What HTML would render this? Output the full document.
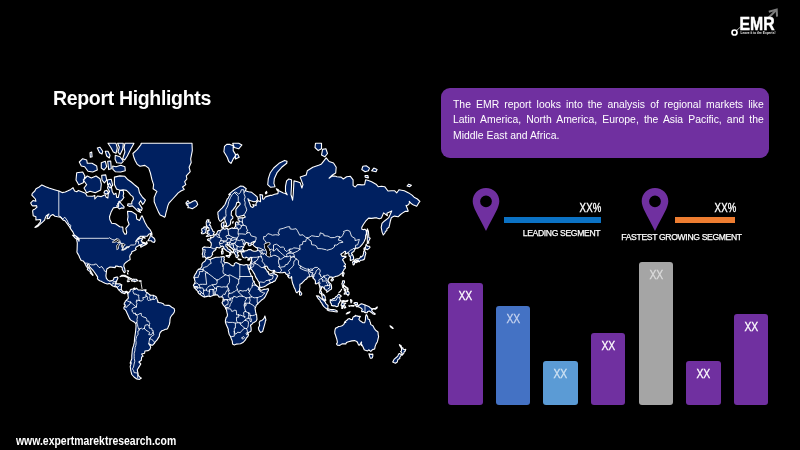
<!DOCTYPE html>
<html><head><meta charset="utf-8"><title>Report Highlights</title>
<style>
html,body{margin:0;padding:0;background:#000;}
body{width:800px;height:450px;overflow:hidden;position:relative;font-family:"Liberation Sans",sans-serif;color:#fff;}
.map{position:absolute;left:0;top:0;}
.title{position:absolute;left:53px;top:87px;font-size:19.5px;font-weight:bold;letter-spacing:-0.33px;white-space:nowrap;}
.box{position:absolute;left:441.2px;top:88px;width:327.6px;height:69.5px;background:#7030a0;border-radius:9px;}
.box p{position:absolute;left:12.2px;top:8.8px;width:334.2px;margin:0;font-size:11.2px;line-height:15.5px;text-align:justify;color:#fff;transform-origin:left top;transform:scaleX(0.93);}
.pin{position:absolute;}
.hbar{position:absolute;height:6px;top:217.3px;}
.pct{position:absolute;top:201.2px;-webkit-text-stroke:0.35px #fff;font-size:12px;letter-spacing:0.3px;white-space:nowrap;transform-origin:right top;transform:scaleX(0.80);}
.seg{position:absolute;-webkit-text-stroke:0.25px #fff;font-size:8.6px;white-space:nowrap;letter-spacing:-0.34px;}
.bar{position:absolute;width:34.7px;border-radius:3px;}
.bar span{-webkit-text-stroke:0.3px currentColor;position:absolute;left:0;right:0;top:4.8px;text-align:center;font-size:12.8px;transform:scaleX(0.81);}
.foot{position:absolute;left:16.3px;top:433.6px;font-size:12.2px;font-weight:bold;white-space:nowrap;transform-origin:left top;transform:scaleX(0.856);}
.logo{position:absolute;left:0;top:0;}
</style></head><body>
<svg class="map" width="800" height="450" viewBox="0 0 800 450">
<path d="M30.7 202.9L33.2 200.4L35.9 201.3L35.4 199.0L33.2 196.6L31.8 195.1L32.3 193.3L34.8 191.0L36.0 188.7L39.2 187.0L41.9 184.9L45.7 186.7L49.0 188.0L54.4 189.7L58.8 191.0L62.1 192.6L65.3 192.0L67.5 191.0L70.8 189.4L73.0 187.7L74.6 191.0L76.8 191.7L78.4 190.4L81.7 191.7L85.5 193.3L87.1 196.0L92.6 196.3L94.8 195.4L94.8 199.0L97.5 196.0L101.3 196.6L105.1 194.8L106.2 197.2L107.9 198.1L108.2 194.2L109.5 191.4L107.5 188.0L108.4 184.6L109.5 183.1L111.3 186.3L112.2 191.4L113.9 194.5L116.0 193.3L116.7 197.5L118.2 197.5L119.2 193.6L119.8 190.4L123.1 190.4L123.7 193.3L123.1 196.0L123.9 197.5L121.5 200.7L118.8 201.5L118.8 204.0L116.8 205.6L117.1 207.2L113.3 207.9L111.1 212.1L109.5 216.8L109.8 219.5L111.7 223.3L115.5 223.7L119.8 226.7L122.8 227.1L123.1 231.2L124.8 234.3L126.4 233.9L126.7 232.1L125.8 228.3L129.1 224.3L127.5 219.9L128.0 216.8L127.5 211.2L131.8 211.6L136.2 214.5L136.7 219.0L139.5 220.5L141.6 216.1L142.2 215.9L144.9 222.2L147.1 226.3L150.4 230.2L151.8 233.0L148.7 234.3L147.1 236.3L140.6 236.3L137.8 238.5L135.7 241.4L137.8 239.4L140.6 238.2L142.2 238.3L142.4 239.5L141.1 240.6L141.9 241.7L142.2 243.0L143.8 243.7L145.5 243.7L146.7 241.7L147.3 243.4L146.0 244.5L143.3 245.8L140.8 247.2L140.5 245.8L142.2 244.5L140.6 244.7L139.5 245.3L136.2 247.0L135.4 248.9L136.2 249.6L134.6 250.6L131.8 251.8L131.6 253.4L130.2 254.8L129.7 256.7L130.2 259.5L128.0 260.9L126.2 262.2L124.2 264.1L123.8 266.2L124.8 269.0L125.2 271.6L124.8 272.6L124.0 272.5L123.3 271.2L122.2 269.3L122.4 267.8L120.9 266.5L119.3 266.7L117.1 266.1L115.5 266.1L115.2 267.6L113.3 267.4L110.0 267.0L106.8 269.0L106.4 271.6L105.9 275.9L106.4 278.3L107.9 280.1L109.5 281.1L112.2 280.6L113.5 279.8L114.0 277.7L116.6 277.1L117.7 277.1L117.9 278.3L117.0 280.1L116.4 281.9L115.7 283.8L117.7 283.9L119.8 283.8L121.7 284.9L121.4 287.2L121.3 289.5L122.0 290.6L123.7 291.9L125.3 291.6L126.4 291.2L128.1 292.3L127.6 293.8L127.2 292.7L125.8 291.9L124.9 293.7L123.4 293.2L122.1 292.8L121.4 292.4L119.8 290.9L119.0 290.3L117.9 288.7L117.1 287.2L114.9 286.6L112.8 286.0L111.9 285.4L110.0 283.6L108.9 283.6L107.3 284.0L105.1 283.3L103.5 282.6L101.3 281.3L99.7 280.7L98.0 279.5L97.4 278.5L97.7 277.1L96.4 275.1L94.8 272.8L93.3 270.7L92.1 269.3L89.9 267.1L89.1 264.9L87.4 264.2L87.5 265.8L89.1 268.0L90.4 270.3L91.5 272.2L92.3 273.8L93.1 275.1L92.7 275.4L92.1 274.7L90.4 273.2L90.2 271.6L88.5 270.6L87.3 269.3L88.0 268.4L86.4 266.5L85.4 264.5L84.9 263.2L83.3 261.1L81.2 260.4L79.6 257.5L79.0 255.8L77.6 253.4L76.9 252.0L77.1 249.6L77.2 246.6L77.3 243.0L76.6 239.4L78.4 239.5L79.0 241.2L79.2 239.2L78.2 237.8L76.8 236.6L74.1 234.8L73.0 232.1L70.5 228.7L69.2 226.3L67.0 223.3L64.8 220.5L63.2 220.1L60.4 217.2L57.7 216.8L55.0 216.3L52.8 214.5L50.6 215.7L49.0 218.4L47.0 218.6L47.9 215.7L49.0 214.0L46.3 215.7L45.2 217.9L44.6 220.1L42.5 222.2L39.7 224.7L37.6 226.5L35.9 227.3L34.9 227.5L36.5 225.9L37.6 225.1L40.3 222.2L40.8 219.7L39.7 219.5L38.1 219.7L35.9 219.9L35.9 216.8L33.2 215.7L32.9 213.3L32.6 210.9L33.2 209.7L34.8 209.2L37.0 207.2L36.5 205.6L34.8 205.9L32.6 205.9L31.8 205.1L30.7 202.9Z M128.1 292.3L128.8 292.9L128.8 292.3L130.1 291.1L130.2 290.1L131.0 289.4L132.9 289.0L134.3 287.9L134.9 288.3L134.2 288.9L134.5 289.5L136.0 288.9L136.2 288.1L137.3 288.9L138.2 290.0L140.6 290.0L142.2 290.4L144.4 289.8L145.1 290.6L146.2 292.3L147.6 292.9L149.1 294.3L150.4 295.2L152.6 295.2L153.6 295.4L155.3 296.3L156.4 297.0L157.2 299.7L158.0 301.2L157.5 302.0L159.6 302.8L160.7 302.8L163.4 303.7L164.2 305.0L167.3 305.4L168.9 305.2L170.5 306.3L172.2 307.6L174.1 308.4L174.6 310.3L174.5 311.4L173.6 313.3L172.2 314.8L170.5 317.2L170.0 319.5L169.8 322.5L169.2 325.0L168.6 326.0L167.8 328.1L166.7 329.3L165.4 329.3L163.4 330.3L162.0 330.6L160.2 332.5L159.5 334.4L159.3 336.4L158.0 338.4L156.9 340.1L155.7 341.3L154.3 343.4L152.7 345.1L151.2 345.1L148.8 343.8L150.2 345.9L150.7 347.4L149.8 349.5L148.2 350.6L144.9 351.0L144.6 353.3L141.6 354.0L143.1 356.3L141.6 357.1L141.3 360.3L138.9 362.0L140.8 364.0L138.9 367.1L137.3 369.8L137.9 373.1L138.2 375.4L140.6 377.8L141.4 378.0L139.5 379.4L136.7 379.0L134.0 377.0L131.8 374.5L130.8 370.7L130.2 366.3L131.3 362.8L130.1 363.2L131.8 358.7L131.8 355.6L132.1 352.5L132.4 349.5L132.7 348.1L133.5 345.9L134.3 342.4L134.6 338.4L135.2 334.4L135.7 330.6L136.0 326.8L135.9 323.6L134.6 322.3L132.4 321.1L130.5 319.9L129.3 318.1L128.4 316.0L127.2 313.6L126.4 311.5L125.4 309.9L124.0 308.9L123.9 307.4L125.0 305.9L125.4 304.9L124.2 304.5L124.3 303.2L125.2 302.0L125.3 301.1L126.5 300.6L126.6 300.0L127.3 299.1L128.0 298.8L128.4 297.7L128.0 295.8L128.1 294.4L127.6 293.8Z M206.1 258.7L206.7 258.5L209.2 259.3L210.3 259.6L211.8 258.8L215.8 257.3L217.9 257.3L220.1 257.0L223.2 256.5L224.5 257.0L223.9 258.4L224.4 259.8L223.6 261.1L224.5 262.2L226.9 262.6L229.1 263.4L231.0 265.1L233.0 266.1L234.3 265.1L234.3 263.6L235.9 262.6L237.6 263.2L238.7 263.8L239.8 264.4L241.9 264.8L244.1 265.3L245.2 264.8L246.3 264.5L247.7 264.8L247.9 266.5L248.3 268.4L248.9 269.7L249.1 270.3L249.7 272.2L250.7 274.1L250.9 275.3L252.2 276.5L252.6 278.3L252.7 279.4L253.4 281.1L254.0 281.9L255.0 284.2L256.1 285.1L257.3 286.3L258.7 287.4L259.6 287.9L259.6 288.8L260.5 290.1L261.6 290.2L263.7 289.4L265.9 289.2L268.2 288.6L268.5 290.2L267.5 291.8L266.5 294.1L265.4 296.3L263.7 298.6L262.0 299.7L259.9 301.7L258.3 303.2L257.2 304.3L256.3 305.2L255.8 306.7L255.0 308.4L255.3 309.9L255.6 311.9L256.1 314.0L256.6 314.8L256.8 317.2L257.0 319.2L256.1 321.1L253.9 322.5L252.7 323.0L252.1 324.1L250.5 325.3L251.0 327.4L251.2 329.9L250.9 331.2L248.5 332.5L248.0 333.1L248.4 335.1L247.9 336.4L246.3 338.2L245.2 340.1L243.6 342.0L242.9 342.4L240.5 343.8L238.1 344.0L236.5 344.1L234.3 344.9L232.6 344.1L232.4 342.4L232.3 341.1L231.4 339.0L230.5 336.5L229.1 334.2L228.3 330.6L228.3 329.2L227.2 326.8L225.9 323.8L225.4 322.2L225.4 320.5L226.1 317.7L227.1 316.6L227.5 314.8L226.9 312.2L226.5 310.1L225.9 308.9L225.6 307.8L224.7 306.6L223.4 305.2L222.3 303.2L222.0 302.8L222.7 301.5L223.1 300.9L223.1 299.4L223.2 298.4L223.0 297.6L222.2 296.9L221.5 296.9L220.1 297.0L219.0 297.1L218.3 295.8L217.4 294.9L216.2 294.8L214.5 295.0L213.8 295.1L212.3 295.8L210.3 296.6L209.0 296.2L208.1 296.1L206.0 296.6L204.3 297.0L202.7 296.3L200.7 294.9L200.0 294.2L198.9 293.6L198.1 292.4L198.0 291.6L197.6 291.2L196.5 290.0L196.0 289.5L195.4 288.6L194.3 287.9L194.2 286.8L193.4 285.2L194.5 283.7L195.0 281.9L195.1 281.2L194.5 279.7L194.7 278.7L193.9 278.0L194.0 277.1L194.2 276.3L195.1 274.4L196.3 272.8L196.7 271.3L197.8 270.3L198.4 269.2L200.0 268.7L201.4 267.4L202.0 265.9L201.8 264.5L202.4 263.2L204.2 261.7L205.1 261.1L205.7 259.8L206.1 258.7Z M240.6 186.0L243.0 186.3L246.3 188.7L245.2 190.7L248.5 191.7L251.7 192.3L257.2 196.9L257.5 199.6L256.1 201.3L253.9 201.8L250.7 200.7L248.5 199.8L247.9 198.7L250.1 204.5L250.7 206.4L252.8 207.4L253.9 206.4L252.8 204.5L256.1 205.6L256.1 203.2L258.3 200.7L260.5 201.8L260.5 199.0L259.9 194.5L262.6 195.1L262.6 199.0L263.7 199.3L265.4 196.9L270.3 195.4L271.4 195.4L274.6 194.2L277.9 193.6L278.4 190.4L283.4 192.9L285.5 193.6L287.2 194.8L285.5 191.4L285.5 186.3L286.6 180.9L288.8 179.0L291.5 179.8L291.5 186.3L291.0 194.5L292.6 200.1L293.2 194.5L293.7 186.3L294.0 180.9L297.5 181.7L300.2 182.8L301.9 188.0L303.0 184.6L300.2 177.1L306.2 175.0L307.3 170.8L312.8 167.2L319.3 164.9L321.5 163.9L326.2 157.9L329.1 161.5L333.5 163.0L336.2 167.2L335.7 173.0L332.4 175.0L329.1 178.2L332.4 175.9L335.7 176.3L336.8 176.7L341.1 177.1L343.3 179.0L346.6 176.7L350.4 176.3L353.1 179.8L353.1 185.6L355.3 187.0L357.5 184.6L359.6 184.6L361.8 184.9L364.6 184.6L365.6 179.8L368.4 180.5L371.6 181.7L376.0 184.2L378.2 186.7L381.5 186.3L384.7 186.7L388.0 191.0L391.3 190.7L394.5 190.7L396.7 192.9L398.3 190.7L398.9 189.7L404.3 190.7L408.7 192.9L412.0 195.1L414.1 197.2L417.4 199.0L419.9 201.5L418.5 203.2L416.9 206.1L416.1 206.1L413.6 205.1L410.9 203.2L409.2 201.3L409.8 201.8L408.7 204.5L406.5 205.9L406.0 205.3L407.6 209.2L408.2 210.9L407.8 211.4L405.4 211.2L402.7 212.9L400.5 214.5L398.1 216.8L394.5 216.1L392.4 217.0L391.3 217.9L390.5 220.5L390.2 221.6L389.6 224.7L388.9 227.3L386.9 228.9L386.8 230.8L385.5 231.2L384.9 233.0L383.3 235.0L382.1 232.1L381.2 227.3L382.0 223.3L384.2 221.2L388.5 217.9L390.2 214.5L391.8 210.9L386.9 213.3L387.4 215.7L383.6 212.9L381.5 217.9L379.3 218.8L376.9 217.9L374.9 217.9L371.6 218.4L368.6 218.1L365.6 221.2L363.5 224.3L361.8 227.3L361.8 229.3L363.5 229.6L365.1 229.3L366.5 230.8L366.2 231.7L366.6 233.0L365.6 235.7L365.6 238.3L364.0 241.7L362.4 244.2L360.2 246.6L358.0 248.1L356.4 248.0L355.0 248.9L354.2 250.4L353.9 251.5L352.0 252.6L351.5 253.7L352.5 254.8L353.5 257.0L353.7 258.4L353.3 259.5L352.0 260.0L350.4 260.6L350.2 259.1L350.5 257.0L349.3 256.0L348.8 254.8L349.0 253.4L348.0 252.8L346.0 253.7L344.9 254.4L345.2 253.4L345.7 251.9L345.3 251.3L344.4 251.6L342.8 252.9L341.1 254.0L340.8 254.2L341.7 255.5L342.2 256.5L343.8 256.1L346.0 256.4L345.8 257.3L344.1 258.1L343.6 258.4L342.5 259.8L343.6 261.1L344.4 263.0L345.4 264.2L345.4 265.1L343.8 266.1L345.5 266.6L345.2 268.4L344.1 269.3L343.3 270.9L342.9 271.6L342.0 273.1L341.2 273.6L340.0 274.7L338.9 275.4L337.0 276.2L336.2 276.3L334.3 277.0L332.8 277.4L332.7 278.6L332.2 278.6L332.1 277.3L330.8 276.9L330.2 277.1L328.9 278.0L328.6 278.9L327.8 280.1L328.6 281.6L329.7 282.9L330.5 283.6L331.3 285.1L331.6 287.0L331.6 288.3L331.3 289.2L330.2 289.8L329.1 290.3L328.8 290.9L327.5 291.8L326.7 292.3L326.9 290.9L326.4 290.3L325.4 290.0L324.8 289.2L324.2 288.2L323.1 287.5L322.5 286.7L322.0 286.6L321.5 287.0L321.5 288.3L321.0 289.5L320.6 290.9L321.3 291.5L321.6 292.5L322.0 293.8L323.1 294.2L323.9 295.0L325.0 296.3L325.2 297.5L325.2 298.8L325.9 300.3L325.3 300.5L324.2 299.6L322.9 298.7L322.3 297.5L321.8 295.8L321.7 294.6L321.2 294.2L320.4 293.2L319.6 292.9L319.6 291.8L320.0 290.4L320.1 288.9L319.9 287.8L319.5 286.0L319.0 284.3L318.9 283.1L318.2 282.5L317.7 283.1L316.5 283.9L315.3 283.7L315.5 281.9L315.2 280.4L314.4 279.2L313.8 278.8L313.1 278.0L312.6 276.2L311.7 275.8L311.1 276.5L309.5 276.8L308.4 276.9L307.3 277.3L307.2 278.1L306.6 278.9L305.4 279.5L304.3 280.7L303.3 281.7L302.2 283.0L301.0 283.8L300.0 284.3L299.8 286.0L300.0 287.1L299.6 288.9L299.5 290.3L298.6 291.5L297.7 291.9L297.0 292.8L295.9 291.8L295.6 290.6L294.8 288.6L294.0 287.3L293.5 285.4L292.9 284.3L292.4 282.5L291.9 280.1L291.7 278.3L291.7 277.1L291.5 276.5L291.0 277.7L289.9 278.1L288.8 277.7L287.7 276.2L288.8 275.8L289.1 275.3L287.7 275.4L287.2 274.7L286.1 274.1L285.5 273.1L285.0 272.3L282.8 272.6L280.1 272.7L278.4 272.5L276.8 272.3L275.2 272.0L274.6 270.6L273.9 270.2L272.1 270.9L270.3 270.3L268.6 269.2L267.9 267.9L267.0 266.2L265.8 266.1L265.4 266.5L264.8 267.1L265.3 268.4L266.1 269.7L267.1 270.8L267.3 272.1L268.1 271.5L268.7 272.2L268.5 273.3L269.0 274.1L270.3 273.9L271.8 273.6L272.8 272.5L273.6 271.5L274.0 271.2L274.0 272.8L274.3 273.7L275.5 274.4L276.4 274.6L277.7 275.9L276.6 278.1L275.5 280.1L274.6 281.3L273.5 281.4L272.4 282.5L271.4 282.5L269.4 283.6L267.0 284.9L265.6 286.0L263.7 286.7L261.6 287.4L259.9 287.5L259.8 286.6L259.5 284.9L259.4 283.2L259.3 282.6L258.0 280.7L256.9 278.9L255.7 277.1L255.0 275.3L254.5 273.9L253.6 272.6L252.8 271.3L251.8 269.8L251.0 268.9L250.7 267.1L250.0 269.0L249.7 269.4L248.9 268.1L248.0 266.6L247.7 264.8L249.2 265.0L249.9 264.8L250.4 263.7L250.7 262.5L251.2 261.3L251.5 259.8L251.6 258.4L252.0 257.4L251.3 257.5L250.4 257.3L249.6 258.0L248.5 258.2L247.4 257.7L246.0 257.1L245.4 258.0L244.1 257.7L243.0 257.4L242.3 256.3L241.9 254.8L241.6 253.7L240.9 252.6L242.5 252.0L244.1 251.9L244.1 251.2L245.2 250.9L246.8 250.7L248.5 249.6L250.7 249.5L252.3 250.7L253.9 251.2L255.8 251.2L257.7 250.4L257.8 249.2L257.2 248.1L255.8 247.2L253.9 245.9L253.7 245.5L252.8 244.5L253.4 243.4L254.1 242.5L255.3 241.6L253.9 241.6L252.3 242.2L251.0 242.9L250.7 243.9L252.2 244.3L251.1 245.0L249.9 245.8L249.0 245.8L248.1 244.2L249.2 243.4L247.4 242.9L246.8 242.4L246.0 242.5L244.9 244.5L243.8 246.2L243.7 247.3L242.9 247.8L242.5 248.9L243.0 249.6L243.1 250.3L244.1 250.9L244.0 251.2L242.5 251.2L241.6 251.9L241.1 252.2L240.8 251.6L240.7 251.5L239.2 251.3L238.7 252.2L238.1 252.3L237.5 251.8L237.1 252.6L237.7 253.8L238.0 255.0L238.7 255.3L238.7 256.0L237.8 255.7L237.8 256.5L237.7 257.7L237.0 257.8L236.2 257.3L235.7 256.0L236.2 255.3L235.5 255.0L235.1 254.2L234.5 253.2L233.6 252.2L233.6 250.6L233.6 249.8L232.7 249.0L232.2 248.7L230.5 247.3L229.1 246.2L228.3 244.7L227.7 245.3L227.3 244.2L227.5 244.0L225.9 244.3L225.9 246.1L226.2 246.6L227.2 247.2L228.0 248.9L230.2 249.8L229.9 250.6L231.0 251.0L232.7 252.3L232.6 252.9L231.0 251.9L230.9 252.0L230.6 252.9L231.1 254.1L230.5 255.0L230.0 255.7L229.6 255.5L229.7 254.4L229.9 253.4L229.5 252.5L228.6 251.8L228.0 251.5L226.7 250.9L225.8 250.0L224.6 249.0L223.9 248.1L223.6 246.7L223.2 246.4L222.2 245.9L221.2 246.7L220.5 247.0L219.3 248.0L218.4 247.7L216.9 247.3L215.9 248.0L216.0 249.0L214.9 250.6L213.5 251.3L212.5 252.8L212.2 253.5L212.7 254.4L212.0 255.1L211.6 256.1L210.4 257.1L210.1 257.4L207.7 257.4L206.6 258.2L206.0 258.1L205.6 257.7L205.0 256.7L204.4 256.7L203.8 257.0L202.7 257.0L202.9 255.3L202.3 254.5L202.4 253.5L202.8 252.3L203.0 250.9L202.8 249.5L202.4 248.1L203.3 247.5L204.1 246.9L206.2 247.2L208.4 247.3L209.2 247.5L210.5 247.5L211.2 245.6L211.3 244.2L211.2 243.0L210.3 242.1L210.1 241.4L209.8 240.9L207.8 240.4L207.4 239.4L208.7 238.7L210.3 239.0L210.8 238.9L210.5 237.1L211.1 237.1L211.4 237.7L212.7 237.5L214.0 236.4L214.2 235.0L215.2 234.7L216.3 234.1L216.9 233.0L217.6 231.2L218.5 230.6L220.1 230.4L221.4 230.0L222.0 229.5L222.3 228.3L222.0 227.5L221.4 226.3L221.3 224.3L221.9 223.1L224.1 221.8L223.8 224.3L223.7 224.9L223.2 226.7L223.3 227.7L223.6 228.5L224.4 229.3L225.8 228.9L227.1 228.1L228.0 229.5L229.9 228.7L232.4 227.7L232.9 228.5L233.9 228.5L234.3 227.5L235.4 226.7L235.5 225.9L235.4 223.7L235.9 222.2L237.1 221.8L237.8 223.1L238.7 223.3L239.1 221.4L239.2 220.3L238.1 219.9L238.1 218.6L239.5 217.9L240.8 217.7L243.0 217.9L245.4 217.0L243.8 215.2L241.9 215.7L239.8 216.3L237.6 217.2L236.5 215.9L235.8 214.5L235.9 212.1L235.9 209.4L237.6 207.2L240.1 204.5L240.1 203.2L238.9 202.4L237.0 202.4L236.7 202.9L235.9 205.9L234.6 207.7L232.7 210.2L231.5 211.2L231.2 214.5L231.2 215.2L232.9 216.8L232.7 218.4L231.0 219.9L230.6 221.6L230.4 223.9L229.7 225.1L228.1 226.1L228.0 226.5L226.7 226.5L226.3 224.9L226.6 223.9L225.5 221.8L224.7 219.2L224.2 218.4L224.2 217.0L223.7 218.6L222.9 219.2L221.2 221.0L220.1 221.2L218.7 219.2L218.2 216.8L218.3 215.9L217.9 214.5L217.9 212.1L219.3 210.9L220.7 209.4L222.3 207.9L223.9 205.9L225.0 204.5L226.1 201.8L227.2 199.0L228.2 198.1L229.4 195.4L230.5 194.5L228.8 194.5L233.1 190.7L235.4 189.1L238.3 187.4L240.6 186.0Z M141.1 143.3L192.0 143.3L192.3 150.6L190.7 158.9L191.2 162.5L189.1 167.2L190.2 171.7L186.3 175.9L186.9 179.0L184.7 181.7L185.8 184.6L182.5 187.0L184.2 189.4L180.9 191.0L178.2 192.9L176.0 195.4L172.7 199.0L170.5 201.3L168.9 203.2L167.8 205.9L166.9 209.7L165.8 213.3L165.3 216.1L164.6 217.2L162.9 216.3L160.2 215.0L158.5 212.1L156.9 208.4L155.8 205.9L154.2 201.8L154.2 197.5L155.8 193.6L156.9 191.4L153.1 188.7L153.6 184.6L152.0 179.8L150.4 173.0L148.7 168.1L144.9 165.4L140.0 166.3L137.3 164.4L135.1 160.5L133.5 156.2L132.9 153.5L137.3 149.4L141.1 144.4Z M185.8 203.2L188.0 200.7L189.6 203.2L192.9 201.3L195.1 200.4L196.7 201.8L197.7 204.5L196.2 206.4L192.3 208.7L189.6 207.7L187.8 207.7L188.5 205.9L186.3 204.8L188.5 203.7Z M145.5 200.1L142.7 197.5L139.5 192.9L138.4 188.0L135.1 185.3L131.3 182.0L128.0 179.8L124.8 176.3L119.8 175.9L114.4 177.1L114.4 184.6L116.6 189.1L118.8 189.7L119.8 190.4L123.1 189.7L126.4 190.4L128.6 192.3L130.8 195.1L132.9 196.6L133.5 199.0L131.8 201.8L131.8 204.0L128.0 203.7L127.5 205.6L129.7 206.4L132.4 205.9L135.1 208.4L137.3 210.7L140.6 212.4L137.8 208.4L141.6 210.4L142.2 208.4L138.9 203.2L140.6 200.7L142.7 204.5L143.8 203.2Z M104.0 192.9L106.8 194.2L108.4 192.3L106.8 190.4L104.6 191.0Z M117.7 203.7L119.8 201.8L121.5 204.0L124.2 206.9L123.7 208.2L121.5 207.9L119.3 208.9L117.7 207.4L118.8 205.9Z M206.3 236.4L208.7 236.3L210.3 235.5L212.5 235.2L214.0 234.5L213.4 233.9L214.4 231.9L212.8 231.2L212.6 230.0L211.2 228.1L210.8 226.3L210.1 225.3L209.2 225.3L210.1 223.7L210.5 222.2L208.7 221.8L207.9 222.2L209.1 219.9L207.1 219.9L206.2 222.2L206.3 224.3L206.5 226.3L207.3 226.1L207.1 227.9L208.7 227.5L209.0 229.1L209.2 230.4L207.6 230.6L208.0 231.5L207.3 231.5L208.0 232.5L206.7 233.2L207.9 233.7L209.1 234.1L209.6 233.9L208.7 234.5L207.6 235.0Z M201.6 233.7L203.2 233.7L205.6 232.7L206.0 230.6L206.5 228.5L205.7 226.9L204.3 226.7L203.2 228.1L201.6 228.9L201.8 230.6L202.4 231.9L201.3 232.8Z M224.5 146.3L223.9 151.7L227.2 157.3L228.8 161.5L231.0 163.4L233.2 158.9L235.9 155.1L233.2 150.6L233.2 145.7L229.9 144.4L226.7 144.4Z M232.7 143.3L234.3 147.5L238.7 148.8L241.9 145.0L238.7 143.3L233.2 143.3Z M235.4 158.9L239.2 157.3L237.6 154.0L235.4 155.1Z M315.0 147.5L318.2 150.6L321.5 148.8L321.5 143.3L318.2 143.3L315.5 143.3Z M321.5 155.1L324.8 156.8L327.5 153.5L325.9 148.8L322.6 149.4Z M361.8 169.5L365.1 171.7L368.4 170.8L369.5 168.1L366.2 165.8L362.9 166.3Z M371.6 170.8L376.0 171.7L377.1 169.5L373.8 168.1Z M365.1 177.1L368.4 177.9L367.8 175.5L365.1 175.5Z M407.1 186.0L409.8 186.7L411.4 185.3L408.7 184.2Z M367.3 228.7L368.4 231.2L368.7 234.8L368.9 237.5L370.2 238.3L368.4 241.7L368.9 242.9L367.3 243.4L367.3 240.1L367.3 236.6L367.0 233.0Z M364.3 250.3L365.2 248.9L367.6 249.6L369.9 247.7L369.6 246.2L367.4 246.1L366.2 244.2L365.8 245.8L365.5 247.7L364.4 247.7L363.9 248.9Z M364.7 250.4L365.3 251.9L365.9 253.2L365.3 255.1L364.8 257.0L364.6 258.8L363.7 259.8L363.4 259.3L362.4 260.2L360.4 260.3L360.2 260.7L359.1 261.8L358.2 260.9L358.5 260.2L356.6 260.6L355.2 261.1L353.9 261.1L353.8 260.6L355.6 259.2L357.2 258.9L359.2 258.8L360.2 257.3L360.8 256.3L360.8 257.3L362.1 256.4L363.0 255.3L363.7 252.9L363.6 251.8L364.0 250.9Z M353.8 261.3L354.8 262.1L354.4 264.1L353.7 265.0L353.0 264.8L353.0 263.2L352.5 262.2L353.2 261.5Z M355.5 261.3L357.7 260.9L357.9 261.4L357.4 262.1L356.1 262.8L355.4 262.1Z M343.7 272.6L344.2 273.1L343.7 274.7L343.1 276.5L342.3 275.5L342.3 274.3L343.2 272.8Z M331.0 279.9L332.4 278.8L333.5 279.3L332.9 280.5L331.9 281.1L331.0 280.6Z M299.7 290.9L301.0 292.4L301.8 293.7L301.3 294.9L300.2 295.3L299.5 294.6L299.5 292.9Z M342.7 280.7L344.4 280.9L344.5 282.5L343.7 283.8L343.6 285.3L344.7 285.8L346.4 287.2L346.5 287.7L345.6 287.2L344.7 286.5L343.9 286.1L342.7 285.8L343.0 285.2L342.2 285.1L341.9 283.5L342.4 283.0L342.4 281.9Z M347.9 290.9L349.0 292.4L349.1 294.1L348.5 294.9L347.9 295.7L347.8 294.6L346.4 294.3L346.4 293.4L344.2 294.2L344.4 292.9L345.8 292.3L347.1 291.9Z M346.7 287.8L347.8 287.8L348.2 289.4L347.4 290.4L346.9 289.6L347.2 288.9Z M344.2 288.5L345.4 288.9L345.6 290.3L345.3 291.6L344.7 290.9L344.2 290.1Z M338.9 292.5L340.4 291.5L341.6 289.2L341.1 290.3L339.6 292.0Z M342.4 286.7L343.5 286.8L343.5 288.0L342.9 287.7Z M330.2 299.9L331.6 300.1L332.8 298.9L334.6 298.4L335.7 296.8L336.8 296.3L337.8 295.0L338.6 294.1L339.7 294.8L341.4 296.1L340.2 296.9L339.7 298.0L340.0 299.5L341.1 300.9L339.8 301.1L339.5 302.6L338.4 303.7L338.3 305.5L337.8 306.4L336.3 306.7L335.1 305.9L333.2 305.9L331.5 305.4L331.3 303.7L330.4 302.6L330.2 300.9Z M316.4 295.7L318.8 296.1L319.6 297.3L321.3 298.6L322.4 299.6L323.7 300.6L325.3 302.0L325.6 303.2L326.4 304.1L328.0 305.5L327.9 307.2L327.8 308.7L326.5 308.7L324.8 307.4L323.7 306.4L322.6 304.9L321.8 303.2L320.4 301.7L320.0 300.1L318.8 299.2L317.7 297.8Z M327.2 309.9L328.6 308.9L330.8 309.6L333.3 309.5L335.3 310.0L337.3 310.9L337.2 312.0L335.1 311.7L332.4 311.3L330.2 311.0L328.5 310.6Z M346.1 314.0L347.2 312.8L350.1 311.7L349.4 312.7L347.2 313.8Z M342.1 301.1L343.2 300.5L345.6 301.0L348.0 300.2L347.2 301.5L343.9 301.4L342.6 302.0L342.3 303.0L343.9 303.0L345.9 303.0L344.7 304.0L343.9 304.3L345.0 306.0L345.8 307.6L344.7 308.1L343.9 307.2L343.4 305.5L342.6 305.5L342.7 308.4L341.8 308.4L341.8 306.0L341.0 305.2L341.8 303.2Z M350.5 299.5L351.8 300.3L351.8 301.7L351.0 302.9L350.7 301.4Z M351.0 305.5L354.1 305.5L353.7 306.3L351.2 306.0Z M348.8 305.7L350.1 305.7L349.9 306.4L349.1 306.3Z M354.1 302.9L355.7 302.5L357.4 302.9L357.6 304.9L358.4 305.8L360.6 304.1L361.7 303.8L365.0 305.0L368.8 306.4L370.2 307.8L372.1 308.9L372.4 309.8L371.5 309.9L372.6 311.9L375.3 314.0L374.8 314.4L372.6 313.7L371.0 312.2L369.4 311.0L367.7 311.6L367.2 312.7L365.0 312.6L363.4 311.4L361.7 311.7L361.7 310.3L362.3 309.5L361.7 308.4L359.5 307.3L357.4 306.5L356.3 306.6L356.1 305.5L355.2 305.2L356.8 304.7L355.2 304.3L354.0 303.6Z M372.9 308.5L375.3 308.4L377.2 306.9L377.2 307.8L375.7 309.2L373.2 308.9Z M366.5 314.6L367.6 316.8L367.9 318.9L369.6 319.7L369.8 321.5L370.3 322.1L370.7 324.3L371.4 324.9L373.1 326.0L374.2 328.3L375.6 330.1L376.3 330.8L378.0 332.0L378.2 334.6L378.6 336.7L378.0 339.2L377.4 341.7L376.1 343.9L375.2 346.1L374.7 348.6L374.6 349.0L372.5 349.6L370.8 351.4L369.2 350.3L369.0 349.7L367.6 350.9L365.4 350.2L364.2 349.7L363.5 348.0L362.7 346.3L362.2 345.4L361.6 344.3L361.4 345.7L361.1 344.0L361.6 342.6L361.4 341.9L360.5 343.6L359.4 345.1L358.6 344.9L357.5 342.6L356.8 341.4L354.5 340.6L351.8 340.9L348.5 341.7L346.4 342.6L345.8 343.9L344.1 343.9L342.0 343.9L339.8 345.4L337.6 345.3L336.7 344.4L336.6 343.5L337.3 343.0L337.3 341.3L336.8 339.2L336.1 337.0L335.6 335.3L334.8 333.3L334.8 331.4L335.1 329.5L335.7 328.0L337.1 327.6L338.5 326.5L340.5 326.2L342.0 325.7L343.6 324.6L344.4 323.3L344.5 322.1L345.8 322.5L345.3 321.4L346.9 320.3L347.7 319.3L349.3 318.5L350.7 319.5L352.4 319.6L352.6 318.3L353.4 316.8L355.1 316.4L355.1 315.2L356.7 315.9L358.6 316.4L360.2 316.2L360.4 316.5L359.4 317.9L358.9 319.5L360.0 320.7L361.6 321.8L363.0 322.7L364.7 322.7L365.2 320.9L365.5 319.1L365.5 317.1L366.0 315.0Z M368.9 353.8L370.9 354.4L372.8 354.1L372.8 356.1L372.4 357.7L371.2 358.3L370.3 358.1L369.6 356.2Z M399.4 344.6L401.2 345.8L401.7 348.0L402.9 347.8L403.0 349.1L404.3 349.7L405.8 349.3L405.2 351.2L404.1 351.8L404.0 353.0L402.3 355.1L401.5 354.7L402.1 353.2L400.6 351.7L401.5 350.9L401.6 349.0L401.1 347.6L399.8 345.7Z M399.4 353.5L401.2 354.5L401.1 355.5L399.8 357.3L399.8 358.6L397.9 359.4L397.3 362.0L395.4 363.2L393.8 362.5L392.7 361.9L394.3 359.1L396.5 357.3L397.9 355.8L398.7 353.9Z M390.0 325.7L391.6 326.7L393.2 328.4L392.4 328.4L390.5 326.8Z M264.9 316.0L266.0 320.1L265.5 320.7L265.0 323.1L263.8 327.4L262.6 331.6L260.5 332.5L258.8 329.9L258.4 327.8L259.6 325.6L259.2 322.5L260.0 321.0L261.9 320.4L263.4 319.1L264.4 317.5Z M120.0 276.6L122.0 275.3L124.8 275.2L128.0 276.9L130.0 278.0L131.6 278.7L130.8 279.1L127.8 279.2L128.4 278.2L126.9 277.1L124.8 276.5L123.1 275.9L121.5 276.3Z M131.4 280.6L132.9 279.1L134.3 279.2L136.2 279.3L137.9 280.6L136.2 281.0L134.7 281.8L133.5 281.1L131.4 281.0Z M127.2 280.9L129.3 281.1L129.3 281.4L127.7 281.6Z M139.3 280.7L141.0 280.9L140.9 281.3L139.3 281.3Z M127.3 270.7L128.6 270.9L128.4 271.6Z M127.5 272.8L128.0 274.1L127.6 273.8Z M145.1 289.8L146.1 289.7L146.0 290.5L145.0 290.5Z M147.9 240.7L149.8 237.5L150.6 234.8L152.0 233.9L151.7 236.6L153.6 237.7L154.7 239.2L155.1 240.9L154.2 242.4L152.0 241.7L151.5 240.7Z M142.2 236.8L144.9 237.7L145.1 238.2L143.3 237.8Z M142.4 242.1L144.9 242.7L144.4 243.4L142.7 242.9Z M72.5 235.2L76.2 236.3L78.0 239.4L76.2 238.9L74.6 237.5Z M226.1 255.5L229.5 255.3L229.1 257.4L226.1 256.1Z M221.4 251.2L223.1 251.2L223.0 253.8L221.7 254.1Z M221.9 248.7L222.9 248.1L222.7 250.4L222.0 250.3Z M238.2 258.9L241.2 259.5L239.8 259.9L238.2 259.5Z M247.7 259.8L250.2 258.8L249.5 259.9L247.9 260.2Z M232.3 223.1L233.2 221.4L232.9 222.9Z M224.5 225.9L226.1 225.3L226.1 226.9L224.7 226.9Z M265.4 192.9L266.5 191.4L267.0 192.9L265.9 193.9Z M276.3 188.7L278.4 189.7L277.4 190.7Z M267.7 184.7L268.3 178.7L270.3 172.7L273.7 168.0L279.0 163.3L284.6 160.4L287.0 161.3L286.7 163.3L281.7 167.3L277.0 172.7L274.3 178.7L273.9 183.3L275.0 186.7L270.7 187.3Z M97.3 148.0L100.0 147.3L102.7 151.3L102.0 154.0L99.6 152.7Z M105.3 151.3L108.0 151.3L110.0 155.3L109.3 158.0L106.7 156.0Z M90.0 152.7L91.7 152.0L92.1 156.7L90.3 157.3Z M108.0 143.3L116.0 143.3L117.3 148.0L116.0 153.3L113.3 152.0L110.7 147.3Z M117.6 143.3L123.3 143.3L122.7 149.3L120.0 154.7L118.0 152.0L119.3 147.3Z M124.9 143.3L134.0 143.3L130.7 149.3L127.3 156.0L124.7 160.0L122.7 158.7L124.9 152.0L124.1 147.3Z M115.3 155.3L120.0 156.7L123.3 161.3L121.3 163.3L116.7 162.7L115.1 159.3Z M79.3 162.0L82.7 158.7L86.7 160.0L87.3 163.3L92.0 163.3L96.7 166.0L97.3 170.0L92.7 172.0L88.0 171.3L84.7 166.7L81.3 166.0Z M101.3 162.7L105.3 161.3L106.7 166.7L104.0 170.0L101.3 168.0Z M107.7 161.3L110.7 161.1L111.3 168.7L108.7 169.6Z M112.7 166.0L116.0 166.7L120.7 165.3L124.9 166.7L125.3 170.7L120.7 172.0L115.3 171.7L112.9 169.3Z M76.7 172.7L82.7 172.0L84.9 176.0L83.3 182.7L78.7 184.7L76.0 180.0Z M83.3 180.0L87.3 176.0L91.3 178.0L96.0 176.0L100.0 178.7L101.3 184.0L100.7 190.0L95.3 192.7L90.0 191.3L86.7 192.7L84.0 188.0L86.7 184.7Z M101.7 175.3L105.7 174.9L106.7 180.0L104.4 182.9L102.0 180.0Z M107.3 180.0L111.3 179.3L112.7 185.3L110.0 188.0L107.6 184.7Z" fill="#002060" stroke="#fff" stroke-width="1.1" stroke-linejoin="round"/>
<path d="M112.2 242.2L114.9 240.1L116.1 238.7L118.2 238.9L120.1 240.6L120.2 242.5L117.7 242.5L116.6 241.7L113.9 242.4Z M116.8 249.6L118.4 248.9L118.5 246.6L119.6 244.0L118.8 243.5L117.0 245.0L116.6 245.8L116.9 248.1Z M120.2 243.5L123.7 243.4L125.3 245.0L123.7 245.8L123.4 247.7L122.6 248.1L121.5 246.9L121.7 245.0Z M121.6 250.1L123.1 250.4L126.4 248.6L125.3 248.4L122.6 249.3Z M125.5 247.7L128.6 247.7L129.4 246.6L128.0 246.6L126.4 246.9Z M266.5 243.0L268.6 242.4L270.1 242.9L270.1 244.5L268.4 245.3L267.5 245.9L268.3 247.8L269.5 248.4L269.8 250.4L270.8 251.5L270.2 253.4L270.9 256.4L269.2 257.1L267.2 256.3L266.1 255.0L266.7 252.0L265.8 250.0L264.6 248.1L264.6 245.6L264.1 244.2Z" fill="#000" stroke="#fff" stroke-width="0.8" stroke-linejoin="round"/>
<path d="M58.8 191.0L58.8 216.1L61.0 216.8L62.6 219.2L64.8 217.2L67.0 220.1L68.8 224.1L70.8 225.3L70.5 227.7 M78.2 238.3L108.7 238.3L109.3 237.7L112.2 239.5L114.9 240.1L116.1 239.5L120.1 242.1L120.4 242.5L121.5 243.2L122.6 244.5L122.7 248.1L121.9 249.6L124.2 249.3L126.4 248.4L126.4 247.7L126.2 247.3L128.8 247.2L129.3 246.2L130.8 245.0L134.6 245.0L135.3 244.3L136.2 242.2L137.1 241.1L138.4 241.2L138.6 243.7L139.3 244.7L139.5 245.3 M84.9 263.2L87.4 263.2L91.5 264.8L94.6 264.8L94.6 264.1L96.4 264.1L98.6 267.0L100.0 267.8L100.8 266.7L102.0 266.7L104.0 269.7L104.5 271.1L106.6 271.7 M112.0 285.4L112.0 284.6L112.5 283.6L114.0 283.6L112.9 282.3L113.3 281.6L115.3 281.6L115.3 283.8L116.3 284.0 M115.3 281.6L116.3 280.7 M115.2 285.6L114.3 286.4 M115.3 283.8L115.2 285.6L116.8 286.7 M117.3 287.2L119.1 286.1L120.1 285.1L121.8 284.9 M119.1 289.4L121.3 289.6 M122.1 292.8L122.5 291.2 M128.1 292.3L127.6 293.8 M134.2 279.3L134.3 280.6L134.2 281.4 M134.8 288.6L133.5 289.5L132.9 291.6L133.6 292.9L134.0 294.1L136.2 294.1L136.9 295.1L138.9 295.0L138.6 296.9L139.1 298.3L138.6 298.8L139.5 300.6 M139.5 300.6L136.4 300.1L137.2 301.3L136.2 301.4L136.2 302.2L136.9 303.3L136.3 306.9 M136.3 306.9L135.4 306.4L133.5 304.8L132.3 303.5L130.4 302.1 M130.4 302.1L129.1 301.7L127.7 301.1L126.6 300.4 M130.4 302.1L130.1 303.7L129.0 305.0L127.3 305.9L126.8 307.3L125.7 307.2L124.9 307.1L125.0 305.9 M136.3 306.9L133.0 308.0L131.9 309.5L132.6 310.5L131.8 310.7L133.0 312.6L133.7 313.0L133.8 313.6L135.5 313.0L135.5 314.8L136.6 314.7 M136.6 314.7L137.6 316.6L137.3 317.9L136.9 319.3L137.1 319.9L137.2 321.0L136.7 322.5 M136.7 322.5L135.9 323.6 M136.7 322.5L137.5 324.4L137.8 326.2L138.2 327.4L138.6 329.1L139.3 329.1 M136.6 314.7L137.8 314.8L140.0 313.5L141.3 313.4L141.3 315.6L142.3 316.4L144.0 317.2L146.0 317.7L146.8 319.5L146.9 321.1L148.8 321.1L149.0 322.3L149.8 323.1L149.5 324.4L149.1 325.7 M149.1 325.7L148.1 324.7L145.2 325.1L144.3 328.3 M144.3 328.3L142.4 329.1L141.4 328.2L139.3 329.1 M139.3 329.1L139.1 330.6L137.8 331.2L138.1 334.3L136.7 336.4L136.2 338.4L135.8 340.4L136.2 342.8L135.8 345.5L135.1 347.4L134.9 350.7L134.2 353.3L134.2 356.3L134.3 358.7L134.8 361.2L134.1 364.0L133.5 367.1L132.4 368.9L133.7 370.7L134.1 372.6L137.9 373.1 M137.7 373.9L137.7 378.2 M144.3 328.3L146.0 330.3L148.4 331.6L149.7 332.5L148.7 334.7L151.2 334.8L153.0 332.6 M149.1 325.7L149.4 328.2L151.8 328.4L152.1 330.6L153.3 330.7L153.0 332.6 M153.0 332.6L154.0 334.7L151.7 336.1L149.7 338.6 M149.7 338.6L149.1 341.7L148.8 343.8 M149.7 338.6L151.5 339.4L153.1 340.4L154.4 342.2L154.3 343.4 M139.5 300.6L141.1 301.1L142.7 300.1L143.4 299.5L142.7 297.7L144.0 297.5L146.0 296.9L146.3 296.1 M146.3 296.1L145.6 295.2L145.9 294.4L146.8 294.0L147.1 292.5 M146.3 296.1L147.1 296.3L147.5 297.5L147.3 299.4L148.2 300.5L149.3 300.2L150.9 299.9 M150.2 295.2L150.0 296.3L149.3 297.7L150.9 299.9 M150.9 299.9L151.6 299.2L153.1 299.4L154.8 299.5L156.3 297.4 M153.6 295.4L153.2 297.3L153.1 299.4 M210.1 259.6L210.6 261.5L211.2 263.4L209.2 264.2L208.6 265.3L206.8 266.6L204.9 267.1L203.0 268.1L203.0 269.9 M198.3 269.4L203.0 269.4 M203.0 269.9L203.0 271.6L199.4 271.6L199.4 274.8L198.3 275.3L198.3 277.4L194.0 277.4 M203.0 269.9L207.3 272.8 M207.3 272.8L213.7 277.6L213.8 278.1L216.0 279.2L216.1 280.1L217.1 280.0 M217.1 280.0L218.8 279.5L220.7 278.0L225.6 274.7 M225.6 274.7L223.4 273.5L222.9 271.2L223.3 269.3L223.2 267.2L222.9 266.2 M222.9 266.2L222.3 263.8L220.9 262.2L221.4 260.3L221.5 258.4L221.9 257.1 M222.9 266.2L223.6 265.1L225.0 263.2L225.0 262.4 M239.8 264.4L239.8 276.5 M239.8 276.5L239.8 278.9L238.7 278.9L238.7 279.5L229.9 274.8L228.8 275.3L228.0 275.8L225.6 274.7 M239.8 276.5L252.7 276.5 M228.8 275.3L229.4 277.7L229.6 278.9L229.4 282.6L227.3 285.4L227.2 286.4 M217.1 280.0L217.1 282.8L216.3 284.3L213.9 284.5L212.7 285.0 M207.3 272.8L205.3 272.8L206.5 283.1L206.7 284.3L202.4 284.3L200.8 284.4L200.0 284.2L199.2 285.1 M199.2 285.1L197.8 283.6L196.7 283.0L194.5 283.6 M199.2 285.1L200.1 287.9 M200.1 287.9L197.6 287.7L194.3 287.9 M197.6 287.7L197.6 288.7L196.2 289.6 M194.2 286.5L197.5 286.5L197.5 287.0L194.2 287.1 M200.1 287.9L202.7 287.9L203.8 290.4 M198.0 291.8L200.0 290.6L201.3 292.4 M201.3 292.4L202.3 293.6L203.2 293.4 M201.3 292.4L200.0 294.2 M203.8 290.4L203.5 292.4L203.2 293.4 M203.2 293.4L204.3 295.4L204.3 297.0 M203.8 290.4L205.7 290.1L206.5 290.2 M206.5 290.2L206.7 288.6L207.7 287.5L208.2 286.7L209.3 286.0L210.3 285.8L211.7 284.9L212.7 285.0 M206.5 290.2L207.4 291.0L209.6 291.2 M209.6 291.2L209.0 294.3L209.4 296.2 M209.6 291.2L209.4 289.5L212.4 289.4 M212.4 289.4L213.0 290.6L213.2 292.7L213.2 294.3L213.8 295.1 M213.5 289.5L214.2 291.8L214.2 295.0 M212.4 289.4L213.5 289.5L215.1 288.5L215.6 287.9L216.4 288.7 M212.7 285.0L213.5 286.6L214.9 287.8L215.1 288.5 M216.4 288.7L216.6 290.1L215.4 292.4L215.4 294.8 M216.4 288.7L216.9 286.6L219.6 286.6L221.8 287.2L223.9 286.8L226.1 287.1L227.2 286.4 M227.2 286.4L228.0 287.9L228.4 288.9L227.0 290.6L225.8 292.4L225.0 294.5L223.6 294.2L222.5 295.1L221.9 296.6 M228.0 287.9L228.8 289.5L229.4 290.6L227.8 290.8L229.1 292.4L229.1 293.5 M229.1 293.5L231.0 293.2L232.8 292.8L233.2 291.8L234.7 291.7L236.2 290.1L237.5 289.5 M237.5 289.5L236.7 287.5L236.5 286.3L237.0 285.8L237.6 284.0L238.7 284.0L238.7 279.5 M229.1 293.5L228.3 295.2L228.3 296.3L229.1 297.8L230.0 298.8L230.0 300.1 M223.2 299.4L224.8 299.5L227.0 299.5L228.3 299.5L230.0 300.1 M223.0 300.9L224.8 300.9L224.8 299.5 M227.0 299.5L226.9 300.5L228.0 300.5L228.2 302.6L227.7 304.8L226.1 304.8L225.4 306.2L224.6 306.5 M230.0 300.1L230.6 298.0L232.8 298.0 M232.8 298.0L232.1 299.3L231.9 301.7L230.8 303.4L230.2 304.5L229.8 306.5L229.1 307.0L228.2 307.7L226.8 307.3L226.3 307.8L225.8 308.7 M225.6 307.8L226.8 307.3 M232.8 298.0L233.8 296.2L236.9 297.4L239.1 296.2L242.4 296.2 M237.5 289.5L238.3 292.1L238.9 292.6L240.1 293.7L241.3 294.5L242.4 296.2 M238.9 292.1L239.8 290.3L242.9 291.1L244.7 290.6L246.3 290.9L247.8 288.7L248.7 288.1L248.5 290.5L249.6 291.2 M249.6 291.2L248.5 292.9L249.9 294.2L251.0 295.9L251.6 296.8 M249.6 291.2L249.9 290.0L250.8 288.6L251.8 287.5L252.3 285.7 M252.3 285.7L252.3 284.7L252.8 282.5L254.6 281.3 M252.3 285.7L253.8 285.0L255.1 285.3L257.0 285.9L258.7 287.8 M258.7 287.8L258.1 289.5L259.3 289.6L259.6 288.9 M259.3 289.6L259.9 291.3L263.7 292.9L264.8 292.9L261.6 296.3L259.4 296.8L258.3 297.4L257.2 297.6 M257.2 297.6L255.9 297.6L254.0 297.9L252.7 297.0L251.6 296.8 M257.2 297.6L257.2 302.0L257.7 304.0 M251.6 296.8L249.6 297.3 M249.6 297.3L249.0 297.7L246.3 297.8L246.2 298.0 M242.4 296.2L244.7 297.0L246.2 298.0 M249.6 297.3L250.1 300.8L249.6 301.8L249.5 303.2 M249.5 303.2L253.5 305.5L253.7 306.2L255.2 307.4 M246.2 298.0L246.3 299.4L245.1 301.1L244.8 303.6 M249.5 303.2L245.7 303.2 M244.8 303.6L245.7 303.2L246.1 304.8L245.1 305.2L244.1 305.1L244.8 303.6 M246.1 304.8L245.7 306.0L244.5 307.1L244.1 305.1 M244.5 307.1L244.8 308.9L245.7 311.5 M245.7 311.5L247.4 312.4L248.4 312.9 M248.4 312.9L249.6 313.0L250.2 315.5 M250.2 315.5L252.3 315.6L254.5 315.1L256.5 314.2 M245.7 311.5L244.0 311.9L243.5 312.8L243.8 314.4L243.5 315.8L244.1 316.4L245.0 316.2L245.0 317.6L243.5 316.6L242.1 315.7L240.1 315.0L239.1 315.4L238.7 314.7 M238.7 314.7L236.7 315.0L236.5 313.0L236.3 310.5L234.3 310.1L233.8 310.9L231.7 311.4L230.6 308.9L227.2 308.8L225.8 308.7 M238.7 314.7L238.7 317.2L236.5 317.2L236.5 321.0L238.0 322.7 M225.4 322.2L227.2 321.9L228.0 322.4L232.7 322.4L235.4 323.1L238.0 322.7L240.0 322.9 M235.4 323.1L235.4 328.1L234.3 328.1L234.3 331.6 M234.3 331.6L234.3 336.2L231.6 336.6L230.5 336.5 M234.3 331.6L235.2 334.2L237.1 333.1L237.6 332.2L240.3 332.7L241.8 330.6L244.5 328.3 M240.0 322.9L240.8 325.0L242.7 326.2L244.5 328.3 M240.0 322.9L241.9 323.1L244.0 320.7L245.6 320.3 M244.5 328.3L246.6 328.6 M245.6 320.3L246.6 320.7L248.4 321.6L248.4 324.4L247.9 327.2L246.6 328.6 M246.6 328.6L247.4 331.2L247.4 334.2L248.4 334.3 M247.4 334.2L246.6 334.8L246.1 333.6L246.6 332.7L247.4 333.1 M241.9 337.8L243.6 336.5L244.5 337.7L243.2 339.2L242.3 338.8L241.9 337.8 M248.4 312.9L248.8 314.6L248.5 316.6L248.1 317.9L248.7 318.3 M248.7 318.3L245.4 319.3L245.6 320.3 M250.2 315.5L250.3 317.7L251.5 319.3L251.5 320.7L250.9 322.1L250.0 320.7L250.1 318.9L248.7 318.3 M202.8 249.8L203.6 249.6L205.4 249.8L205.0 251.2L205.0 253.1L204.3 253.2L204.9 255.3L204.4 256.7 M210.5 247.5L213.3 248.6L216.0 249.0 M215.2 234.7L217.1 236.6L218.8 237.5L219.5 237.5L221.4 238.3L220.8 240.7 M220.8 240.7L219.0 243.0L220.1 243.5L219.7 244.8L220.8 246.2L220.7 246.9 M216.2 234.1L217.9 234.1L219.0 235.2 M219.0 235.2L219.3 236.3L219.5 237.5 M219.0 235.2L219.0 233.4L220.1 232.5L220.3 230.6 M222.0 227.5L223.3 227.7 M228.0 229.5L228.4 232.1L228.7 234.8L228.8 235.0 M228.8 235.0L225.8 236.1L227.5 238.7 M227.5 238.7L226.7 240.9L223.0 240.9 M223.0 240.9L220.8 240.7 M220.1 243.5L222.3 243.4L223.9 241.9L223.0 240.9 M223.9 241.9L225.8 241.7L227.4 242.5 M227.4 242.5L227.4 244.0 M227.4 242.5L230.0 242.2L230.0 241.9L231.1 240.1 M227.5 238.7L228.8 238.3L230.9 239.0L231.1 240.1 M228.8 235.0L230.5 236.1L233.0 237.5 M230.9 239.0L233.0 237.5 M233.0 237.5L237.0 238.2 M231.1 240.1L233.0 240.4L234.8 239.2L236.6 239.4 M237.0 238.2L236.6 239.4 M237.0 238.2L238.7 235.7L238.2 233.9L238.1 232.1L238.6 229.5L238.1 229.3 M238.1 229.3L237.4 228.5L233.9 228.5 M237.4 228.5L237.1 227.3L235.6 226.7 M238.1 229.3L240.5 228.7L241.5 225.9 M235.5 225.1L239.6 224.5L241.5 225.9 M241.5 225.9L243.2 225.1 M239.1 221.4L240.8 221.6L242.4 222.2 M242.4 222.2L242.4 219.5L243.0 217.9 M242.4 222.2L243.2 225.1 M243.2 225.1L246.2 226.1L246.8 229.3L248.1 230.4L246.6 231.2L247.2 232.8 M238.2 233.9L241.9 233.9L245.7 234.3L247.2 232.8 M247.2 232.8L249.6 232.5L251.2 235.9L253.9 236.6L256.2 237.3L255.9 240.1L254.1 241.6 M236.6 239.4L237.5 240.1L239.6 240.6L241.5 239.5L243.2 242.5L243.2 244.2L244.9 244.5 M241.5 239.5L244.1 240.1L245.2 242.5L243.2 244.2 M236.6 239.4L235.4 243.0L234.6 243.2 M234.6 243.2L233.0 243.5L231.0 243.4L230.0 242.2 M234.6 243.2L235.8 245.3L237.0 245.8L237.2 246.2 M237.2 246.2L239.8 247.0L241.9 246.4L243.7 247.0 M237.2 246.2L236.9 249.2L237.6 250.7L239.2 250.4L241.1 250.1L243.0 249.6 M241.2 250.1L240.9 251.6 M234.3 253.1L235.4 251.3L237.6 250.7 M233.6 249.8L234.8 249.3L235.0 251.2L235.4 251.3 M234.8 249.3L236.9 249.2 M229.6 244.7L230.9 244.7L233.2 245.0L233.6 245.1L233.4 247.3L232.7 248.9 M229.6 244.7L230.2 246.2L231.7 248.1L232.7 248.9 M227.3 244.2L229.2 244.2L230.0 242.2 M233.2 245.0L233.0 243.5 M233.4 247.3L234.6 248.3L234.8 249.3 M224.7 219.0L226.1 215.7L225.8 213.3L225.8 209.7L227.8 205.9L228.8 201.3L230.5 197.5L232.3 194.5L234.6 192.6 M234.6 192.6L235.9 192.0L238.7 194.2L240.5 192.3L241.4 189.7L243.6 189.7L244.1 192.6L245.2 190.7 M234.6 192.6L238.3 196.3L238.2 200.4L238.9 202.4 M244.1 192.6L243.9 193.6L245.2 196.9L244.3 199.6L245.2 202.6L244.9 205.1L245.7 206.6L246.8 209.9L244.9 213.8L242.8 215.7 M204.4 227.3L203.6 228.3L204.5 229.1L205.6 229.1 M257.7 250.4L259.9 251.0 M259.9 251.0L260.1 252.5L261.3 253.1 M261.3 253.1L260.7 255.1L261.3 256.7 M261.3 256.7L258.7 256.8 M258.7 256.8L256.1 257.3L253.9 257.3L252.5 257.3L252.3 258.1L251.7 258.5 M256.1 247.5L258.8 247.8L261.0 248.6L263.1 249.8 M263.1 249.8L264.6 250.9L265.5 250.0 M259.9 251.0L261.6 250.7L263.1 249.8 M261.6 250.7L262.2 251.9L263.2 253.4L263.2 254.2 M261.3 253.1L263.2 254.2L264.8 253.2L265.8 255.0 M258.7 256.8L257.4 260.0L254.8 261.9 M254.8 261.9L252.6 263.4L251.4 262.9 M254.8 261.9L255.2 263.6 M255.2 263.6L252.8 264.5L253.9 265.8L253.4 266.5L251.7 267.5L250.7 267.2 M251.4 262.9L251.2 264.5L250.7 267.1 M250.8 262.4L251.5 261.9L252.4 260.9L251.7 260.3 M249.9 264.8L250.5 267.1 M255.2 263.6L256.5 264.0L258.3 265.0L261.2 267.5L263.2 267.6L264.3 267.8 M263.2 267.6L263.7 266.6L264.8 266.5 M264.3 267.8L265.3 268.4 M261.3 256.7L262.0 258.4L262.6 259.6L262.0 261.1L262.9 262.5L264.7 264.1L264.8 265.8L265.4 266.5 M259.0 283.2L259.7 282.0L261.0 282.0L263.1 282.3L264.3 282.5L265.9 280.6L269.2 280.1 M269.2 280.1L272.4 278.9L273.2 276.5L272.7 275.7 M269.2 280.1L270.4 282.9 M272.7 275.7L269.8 275.4L268.7 273.9 M272.7 275.7L273.3 273.8L273.9 273.0L273.6 271.5 M271.3 256.5L273.5 255.4L275.0 255.3L277.1 256.3L279.2 257.5L279.2 258.9 M279.2 258.9L278.4 261.1L278.9 264.5L279.9 265.1L278.9 266.7 M278.9 266.7L281.0 268.7L281.4 270.1L281.5 270.8L279.6 272.6 M278.9 266.7L280.6 267.2L284.8 266.6L285.2 264.9L288.0 264.0L288.3 262.4L289.1 261.9L290.0 261.1L290.5 259.1L290.2 258.2L292.6 257.1L294.1 256.7 M279.2 258.9L281.0 259.3L282.8 258.0L285.0 256.4L286.4 256.7L288.3 256.7L289.0 256.1L290.4 255.7L290.5 257.4L292.4 256.4L294.1 256.7 M273.5 250.7L274.6 250.7L276.4 248.6L277.9 249.3L278.0 250.6L279.0 250.9L280.5 252.6L282.3 254.1L285.0 256.4 M269.7 250.0L271.4 249.2L273.5 250.7 M273.5 250.7L273.5 245.0L276.4 244.2L279.0 245.9L280.1 247.3L283.2 247.0L284.5 248.1L284.4 249.6L286.8 251.6L287.7 250.6L289.3 249.6L289.9 249.2 M289.9 249.2L292.6 248.9L293.5 247.8L297.5 248.3L299.9 249.3 M299.9 249.3L297.5 251.2L295.9 251.9L292.9 253.2 M292.9 253.2L294.1 254.8L294.1 256.7 M289.9 249.2L289.3 251.2L291.5 251.9L289.3 252.6L288.3 253.2L292.9 253.2 M288.3 253.2L286.6 254.1L286.8 255.5L286.4 256.7 M266.1 242.9L265.4 240.9L263.4 239.2L263.7 238.0L263.6 236.6L265.5 236.6L267.9 233.6L270.3 234.3L272.4 235.2L275.7 234.7L279.0 235.2L279.5 234.1L277.9 233.0L279.0 231.2L279.3 229.3L283.4 228.3L287.2 226.9L289.7 226.7L290.1 228.9L292.6 229.3L296.1 228.7L297.4 230.6L299.7 235.2L303.0 234.8L305.5 237.3L307.7 238.0 M307.7 238.0L306.0 239.4L305.8 241.4L303.0 241.4L302.4 244.5L299.7 245.1L299.9 249.3 M307.7 238.0L309.0 237.5L311.7 235.7L315.5 236.4L318.8 236.6L319.6 235.7L320.3 232.8L324.0 234.3L323.9 235.7L328.0 236.1L330.8 237.7L334.6 237.5L337.3 236.3L339.7 237.0 M307.7 238.0L309.0 239.7L311.1 240.9L311.7 244.7L314.4 245.1L316.5 246.1L317.6 248.6L321.5 248.7L326.4 249.8L326.9 250.3L331.9 248.9L334.4 247.0L334.5 245.0L336.8 245.1L339.5 242.9L343.1 242.2L340.9 240.6L338.4 240.2L338.9 238.7L339.7 237.0 M339.7 237.0L340.9 237.5L342.5 235.7L344.2 232.1L343.4 231.5L347.1 230.2L349.8 231.2L351.5 236.3L355.1 238.5L355.0 240.6L359.4 239.4L357.7 244.8L355.5 245.3L355.4 248.1L354.9 249.0 M354.9 249.0L354.1 248.1L352.1 249.6L350.8 250.0L348.0 252.6 M350.6 255.8L352.5 254.7 M330.2 277.1L328.8 275.4L327.3 274.9L325.3 275.8L323.9 276.0 M323.9 276.0L322.8 277.4 M322.8 277.4L320.6 276.4L320.4 274.3L318.9 274.1L320.1 271.8L320.1 269.7L318.7 268.7 M322.8 277.4L321.6 278.6 M321.6 278.6L322.0 279.5L322.8 279.5L322.6 281.4L323.7 281.1L325.3 280.9L326.7 282.0L326.7 283.3L327.6 284.2L327.5 285.6 M323.9 276.0L324.8 278.0L326.7 278.6L325.8 279.8L327.2 280.6L328.7 282.8L329.7 284.9L329.8 285.2 M327.5 285.6L329.8 285.2 M329.8 285.2L329.7 288.0L328.0 288.7L327.1 289.6L326.4 290.2 M327.5 285.6L324.8 285.8L324.2 286.6L324.7 288.7 M321.6 278.6L319.4 279.3L318.8 280.7L320.1 283.3L319.5 284.6L320.6 287.2L321.1 288.6L320.2 290.4 M321.6 294.6L322.7 295.6L323.8 295.0 M286.8 274.4L289.9 273.5L289.1 271.6L288.5 270.3L289.9 269.2L291.4 268.0L292.5 266.6L293.8 264.9L293.7 262.9L294.1 261.1L296.4 259.1 M294.1 256.7L295.3 258.4L296.4 259.1 M296.4 259.1L298.6 260.7L298.4 263.2L298.8 265.1L300.8 266.2 M300.8 266.2L303.0 267.5L306.2 269.0L308.5 269.2 M300.8 266.2L299.8 268.0L303.3 269.8L306.0 270.8L308.5 271.1L308.5 269.2 M308.5 269.2L309.3 269.9L310.4 268.8L312.3 269.3L312.8 270.4L310.4 270.7L309.3 269.9 M312.3 269.3L315.0 267.4L317.4 267.4L318.7 268.7 M318.7 268.7L317.1 269.9L316.2 270.9L315.6 272.8L315.0 274.2L314.2 274.1L314.1 276.3L313.4 277.4 M309.5 276.8L309.3 273.8L308.5 273.3L309.0 271.2L310.4 271.6L310.4 272.5L313.2 272.8L311.9 274.1L312.3 275.3L313.1 274.4L313.4 277.4L313.1 278.0 M330.9 299.7L331.8 301.0L334.0 300.3L336.2 300.3L337.6 297.1L339.6 297.3 M365.0 305.0L365.0 312.6 M140.8 280.9L141.4 284.9L142.0 288.6" fill="none" stroke="#fff" stroke-width="0.85" stroke-linejoin="round" stroke-linecap="round"/>
</svg>
<div class="title">Report Highlights</div>
<div class="box"><p>The EMR report looks into the analysis of regional markets like Latin America, North America, Europe, the Asia Pacific, and the Middle East and Africa.</p></div>

<svg class="pin" style="left:472.3px;top:187px" width="28" height="45" viewBox="0 0 28 45"><path fill-rule="evenodd" fill="#7030a0" d="M14 1C6.6 1 .7 6.9 .7 14.300C.7 20.5 5.5 27 14 43.900C22.5 27 27.3 20.5 27.3 14.300C27.3 6.9 21.4 1 14 1zM14 8.400a5.9 5.9 0 1 1 0 11.800a5.9 5.9 0 1 1 0-11.800z"/></svg>
<svg class="pin" style="left:640.5px;top:187px" width="28" height="45" viewBox="0 0 28 45"><path fill-rule="evenodd" fill="#7030a0" d="M14 1C6.6 1 .7 6.9 .7 14.300C.7 20.5 5.5 27 14 43.900C22.5 27 27.3 20.5 27.3 14.300C27.3 6.9 21.4 1 14 1zM14 8.400a5.9 5.9 0 1 1 0 11.800a5.9 5.9 0 1 1 0-11.800z"/></svg>
<div class="hbar" style="left:504px;width:97px;background:#0b72c4;"></div>
<div class="hbar" style="left:675px;width:60px;background:#ed7d31;"></div>
<div class="pct" style="right:198.2px;">XX%</div>
<div class="pct" style="right:63px;">XX%</div>
<div class="seg" style="left:522.7px;top:228px;">LEADING SEGMENT</div>
<div class="seg" style="left:621.3px;top:231.8px;">FASTEST GROWING SEGMENT</div>

<div class="bar" style="left:447.9px;top:282.8px;height:122.2px;background:#7030a0;"><span>XX</span></div>
<div class="bar" style="left:495.5px;top:305.8px;height:99.2px;background:#4472c4;"><span style="color:#c5d2ee">XX</span></div>
<div class="bar" style="left:543.2px;top:361px;height:44.0px;background:#5b9bd5;"><span style="color:#cfe2f3">XX</span></div>
<div class="bar" style="left:590.8px;top:333.2px;height:71.8px;background:#7030a0;"><span>XX</span></div>
<div class="bar" style="left:638.5px;top:262.2px;height:142.8px;background:#a5a5a5;"><span style="color:#dcdcdc">XX</span></div>
<div class="bar" style="left:686.1px;top:361px;height:44.0px;background:#7030a0;"><span>XX</span></div>
<div class="bar" style="left:733.8px;top:314.4px;height:90.6px;background:#7030a0;"><span>XX</span></div>

<svg class="logo" width="800" height="45" viewBox="0 0 800 45">
<line x1="736.8" y1="30.3" x2="740.6" y2="26.8" stroke="#bbb" stroke-width="0.9"/>
<circle cx="734.5" cy="32.5" r="2.5" fill="none" stroke="#fff" stroke-width="1.7"/>
<path d="M768.3 18L775.8 10.500" stroke="#7d7d7d" stroke-width="2" fill="none"/>
<path d="M768.8 11.800L776.7 9.600L777 16.600" stroke="#7d7d7d" stroke-width="2" fill="none"/>
<text x="739.6" y="29.500" style="font-family:'Liberation Sans',sans-serif;font-weight:bold;font-size:17.500px" fill="#fff" stroke="#fff" stroke-width="0.45" textLength="35" lengthAdjust="spacingAndGlyphs">EMR</text>
<text x="740.5" y="33.700" style="font-family:'Liberation Sans',sans-serif;font-weight:bold;font-size:3px" fill="#e6e6e6" textLength="35" lengthAdjust="spacingAndGlyphs">Leave it to the Experts!</text>
</svg>
<div class="foot">www.expertmarektresearch.com</div>
</body></html>
